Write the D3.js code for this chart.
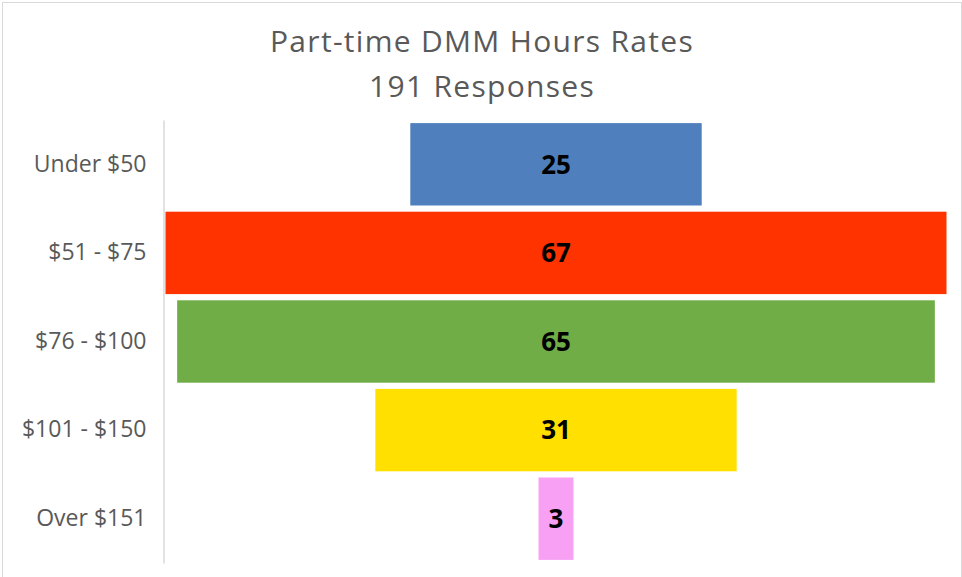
<!DOCTYPE html>
<html>
<head>
<meta charset="utf-8">
<script src="https://cdn.jsdelivr.net/npm/d3@7"></script>
<style>
	body { margin: 0; background: #fff; }
	svg { display: block; font-family: "Open Sans", sans-serif; }
</style>
</head>
<body>
<div class="funnel"></div>
<script>
// data
let categories = ["Under $50", "$51 - $75", "$76 - $100", "$101 - $150", "Over $151"];
let responses = [25, 67, 65, 31, 3];
let barColors = ["#4f80bd", "#ff3300", "#70ad47", "#ffe000", "#f8a0f4"];
let titleLines = ["Part-time DMM Hours Rates", "191 Responses"];

let width = 962;
let height = 577;

let margin = {
	left: 164,
	right: 15,
	top: 120,
	bottom: 14
};

let svg = d3.select(".funnel").append("svg")
	.attr("width", width)
	.attr("height", height);

// outer frame
svg.append("rect")
	.attr("x", 2.5).attr("y", 2.5)
	.attr("width", width - 3).attr("height", height - 2)
	.attr("fill", "none")
	.attr("stroke", "#d9d9d9");

// title
svg.append("text")
	.attr("text-anchor", "middle")
	.attr("fill", "#595959")
	.style("font-size", "30px")
	.style("letter-spacing", "1.3px")
	.selectAll("tspan")
	.data(titleLines)
	.join("tspan")
	.attr("x", 482)
	.attr("y", (d, i) => 52 + i * 45)
	.text(d => d);

let y = d3.scaleBand()
	.domain(categories)
	.range([margin.top, height - margin.bottom])
	.paddingInner(0.07)
	.paddingOuter(0.035);

// width of each bar, centred in the plot
let plotWidth = width - margin.left - margin.right;
let w = d3.scaleLinear()
	.domain([0, d3.max(responses)])
	.range([0, plotWidth - 2]);
let cx = margin.left + plotWidth / 2 + 0.5;

let yAxis = d3.axisLeft(y).tickSize(0).tickPadding(17);

let axisG = svg.append("g")
	.attr("transform", "translate(" + (margin.left - 0.5) + ",0)")
	.call(yAxis);
axisG.select(".domain").attr("stroke", "#d9d9d9").attr("stroke-width", 1.5);
axisG.selectAll("text")
	.attr("fill", "#595959")
	.style("font-size", "23px")
	.style("font-family", "Open Sans, sans-serif");

let rows = categories.map((c, i) => ({ cat: c, val: responses[i], color: barColors[i] }));

svg.append("g").selectAll("rect")
	.data(rows)
	.join("rect")
	.attr("x", d => cx - w(d.val) / 2)
	.attr("y", d => y(d.cat))
	.attr("width", d => w(d.val))
	.attr("height", y.bandwidth())
	.attr("fill", d => d.color);

svg.append("g").selectAll("text")
	.data(rows)
	.join("text")
	.attr("x", cx)
	.attr("y", d => y(d.cat) + y.bandwidth() / 2)
	.attr("dy", "0.36em")
	.attr("text-anchor", "middle")
	.attr("fill", "#000")
	.style("font-size", "26px")
	.style("font-weight", "bold")
	.text(d => d.val);
</script>
</body>
</html>
